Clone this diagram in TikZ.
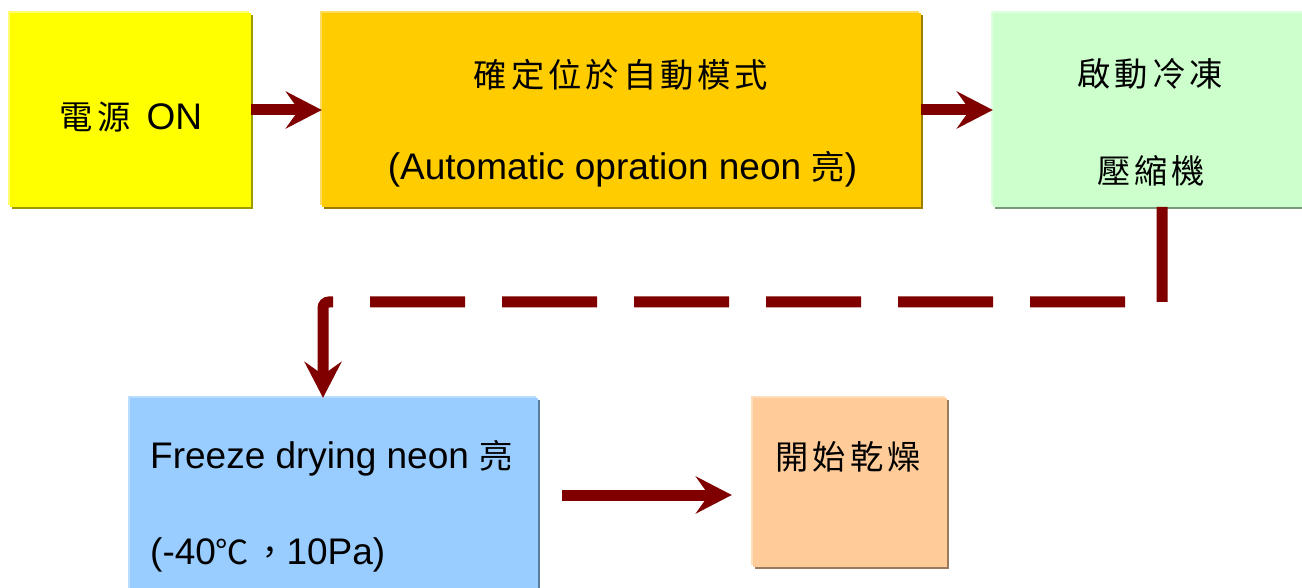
\documentclass[tikz,border=0pt]{standalone}
\usepackage{fontspec}
\setmainfont{Liberation Sans}
\newfontfamily\cjk[Scale=0.9,LetterSpace=12]{Noto Sans CJK TC}
\usetikzlibrary{arrows.meta,shadows}
\definecolor{arrowred}{HTML}{800000}
\definecolor{yel}{HTML}{FFFF00}\definecolor{yelS}{HTML}{9C9C00}\definecolor{yelH}{HTML}{FFFF70}
\definecolor{org}{HTML}{FFCC00}\definecolor{orgS}{HTML}{9C7D00}\definecolor{orgH}{HTML}{FFDC60}
\definecolor{grn}{HTML}{CCFFCC}\definecolor{grnS}{HTML}{7A997A}\definecolor{grnH}{HTML}{E0FFE0}
\definecolor{blu}{HTML}{99CCFF}\definecolor{bluS}{HTML}{5C7A99}\definecolor{bluH}{HTML}{B8DDFF}
\definecolor{pch}{HTML}{FFCC99}\definecolor{pchS}{HTML}{997A5C}\definecolor{pchH}{HTML}{FFDDBB}
\tikzset{
  box/.style n args={3}{rectangle, inner sep=0pt, draw=none, fill=#1,
    general shadow={fill=#3, shadow xshift=-2pt, shadow yshift=2pt},
    general shadow={fill=#2, shadow xshift=2pt, shadow yshift=-2pt}},
  bigarrow/.style={draw=arrowred, line width=11pt,
    -{Stealth[length=36pt, width=37pt, inset=13pt]}},
  dashconn/.style={draw=arrowred, line width=11pt, line cap=butt,
    dash pattern=on 95pt off 37pt,
    -{Stealth[length=36pt, width=37pt, inset=13pt]}},
  lat/.style={inner sep=0pt, font=\fontsize{37}{40}\selectfont},
  han/.style={inner sep=0pt, font=\fontsize{37}{40}\selectfont\cjk},
}
\begin{document}
\begin{tikzpicture}[x=1pt,y=-1pt]
\clip (0,0) rectangle (1302,588);
\fill[white] (0,0) rectangle (1302,588);
% boxes
\node[box={yel}{yelS}{yelH}, minimum width=241pt, minimum height=194pt] (b1) at (130.5,110) {};
\node[box={org}{orgS}{orgH}, minimum width=599pt, minimum height=194pt] (b2) at (621.5,110) {};
\node[box={grn}{grnS}{grnH}, minimum width=314pt, minimum height=194pt] (b3) at (1150,110) {};
\node[box={blu}{bluS}{bluH}, minimum width=408pt, minimum height=194pt] (b4) at (334,495) {};
\node[box={pch}{pchS}{pchH}, minimum width=194pt, minimum height=169pt] (b5) at (850,482.5) {};
% texts
\node[lat, anchor=base] (t1) at (131,130) {{\cjk 電源} \hspace{6pt}ON};
\node[han] (t2a) at (621,75) {確定位於自動模式};
\node[lat, anchor=base] (t2b) at (622.5,180) {(Automatic opration neon {\cjk 亮})};
\node[han] (t3a) at (1150,74) {啟動冷凍};
\node[han] (t3b) at (1151,171) {壓縮機};
\node[lat, anchor=base west] (t4a) at (150,468) {Freeze drying neon {\cjk 亮}};
\node[lat, anchor=base west] (t4b) at (150,564) {(-40{\cjk ℃，}10Pa)};
\node[han] (t5) at (848,457) {開始乾燥};
% connectors
\draw[bigarrow] (b1.east) -- (b2.west);
\draw[bigarrow] (b2.east) -- (b3.west);
\draw[bigarrow, shorten <=24pt, shorten >=21pt] (b4.east) -- (b5.west |- b4.east);
\coordinate (d1) at (1162,207);
\coordinate (d2) at (1162,302);
\coordinate (d3) at (323,302);
\draw[dashconn] (d1) -- (d2) [rounded corners=6pt] -- (d3) -- (b4.north -| d3);
\end{tikzpicture}
\end{document}
